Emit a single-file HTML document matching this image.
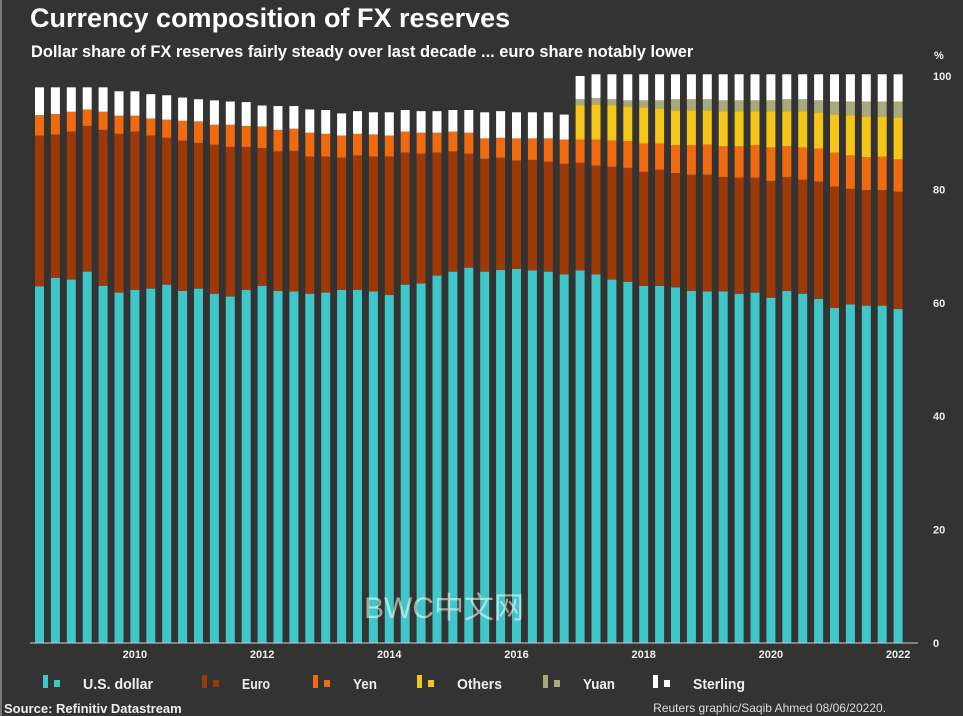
<!DOCTYPE html>
<html><head><meta charset="utf-8"><style>
html,body{margin:0;padding:0;background:#333333;}
body{width:963px;height:716px;overflow:hidden;position:relative;font-family:"Liberation Sans Narrow","Liberation Sans",sans-serif;color:#fff;}
#title{position:absolute;left:30px;top:3px;font:bold 27px "Liberation Sans",sans-serif;}
#sub{position:absolute;left:31px;top:43px;font:bold 16.4px "Liberation Sans",sans-serif;}
#lborder{position:absolute;left:0;top:0;width:2px;height:716px;background:#777;}
</style></head><body>
<div id="lborder"></div>
<div id="title">Currency composition of FX reserves</div>
<div id="sub">Dollar share of FX reserves fairly steady over last decade ... euro share notably lower</div>
<svg id="chart" width="963" height="716" style="position:absolute;left:0;top:0"></svg>
<script>
const usd=[62.9,64.4,64.1,65.5,63.0,61.8,62.3,62.5,63.2,62.1,62.5,61.6,61.1,62.3,63.0,62.1,62.0,61.6,61.8,62.3,62.3,62.0,61.4,63.2,63.4,64.8,65.5,66.2,65.5,65.8,66.0,65.7,65.5,65.0,65.7,65.0,64.1,63.7,63.0,63.0,62.7,62.1,62.0,62.0,61.6,61.8,60.9,62.1,61.6,60.7,59.1,59.7,59.5,59.5,58.9];
const eur=[26.6,25.3,26.1,25.7,27.5,28.0,27.9,27.0,25.9,26.5,25.7,26.3,26.4,25.2,24.3,24.6,24.8,24.2,24.0,23.3,23.7,23.8,24.4,23.3,22.9,21.7,21.2,20.1,19.9,19.8,19.1,19.5,19.4,19.5,19.0,19.2,19.9,20.1,20.1,20.5,20.2,20.5,20.6,20.2,20.5,20.3,20.6,20.1,20.1,20.7,21.4,20.4,20.4,20.4,20.7];
const jpy=[3.6,3.6,3.5,2.9,3.2,3.2,2.8,3.0,3.2,3.5,3.8,3.5,3.9,3.7,3.8,3.8,3.9,4.2,4.0,3.9,3.8,3.9,3.7,3.7,3.7,3.5,3.5,3.7,3.6,3.5,3.9,3.8,4.1,4.3,4.1,4.6,4.6,4.7,5.0,4.6,4.9,5.2,5.3,5.4,5.5,5.7,5.9,5.4,5.7,5.8,6.0,5.9,5.8,5.9,5.7];
const oth=[0,0,0,0,0,0,0,0,0,0,0,0,0,0,0,0,0,0,0,0,0,0,0,0,0,0,0,0,0,0,0,0,0,0,6.0,6.2,6.2,6.1,6.4,6.2,6.1,6.1,6.0,6.2,6.2,6.0,6.4,6.2,6.4,6.4,6.7,7.1,7.2,7.1,7.4];
const cny=[0,0,0,0,0,0,0,0,0,0,0,0,0,0,0,0,0,0,0,0,0,0,0,0,0,0,0,0,0,0,0,0,0,0,1.1,1.1,1.1,1.1,1.2,1.4,2.0,2.0,2.0,1.9,1.9,1.9,1.9,2.1,2.1,2.1,2.3,2.4,2.6,2.6,2.8];
const gbp=[4.9,4.7,4.3,3.9,4.3,4.3,4.3,4.3,4.3,4.1,3.9,4.3,4.1,4.2,3.7,4.2,4.0,4.1,4.2,3.9,4.0,3.9,4.1,3.8,3.8,3.8,3.8,4.0,4.6,4.7,4.6,4.6,4.6,4.4,4.1,4.2,4.4,4.6,4.6,4.6,4.4,4.4,4.4,4.6,4.6,4.6,4.6,4.4,4.4,4.6,4.8,4.8,4.8,4.8,4.8];
const yearLabels=["2010","2012","2014","2016","2018","2020","2022"];
const yearIdx=[6,14,22,30,38,46,54];
const yTicks=[0,20,40,60,80,100];
const NS="http://www.w3.org/2000/svg";
const svg=document.getElementById('chart');
const xc=i=>39.5+i*15.9;
const y=v=>643-v*5.67;
const series=[[usd,'#3ec6c8','us-dollar'],[eur,'#9c3906','euro'],[jpy,'#f06a10','yen'],[oth,'#f5c518','others'],[cny,'#a8aa7a','yuan'],[gbp,'#ffffff','sterling']];
function mk(tag,attrs){const e=document.createElementNS(NS,tag);for(const k in attrs)e.setAttribute(k,attrs[k]);svg.appendChild(e);return e;}
for(let i=0;i<usd.length;i++){
  let base=0;
  for(const [arr,col,nm] of series){
    const v=arr[i]; if(v<=0) continue;
    const r=mk('rect',{x:xc(i)-4.5,y:y(base+v),width:9,height:y(base)-y(base+v),fill:col});
    
    
    base+=v;
  }
}
const ax=mk('line',{x1:30,x2:918,y1:643,y2:643,stroke:'#ccc','stroke-width':1});


yTicks.forEach(t=>{
  const tx=mk('text',{x:933,y:y(t)+4,fill:'#eee','font-size':11,'font-weight':'bold'});
  tx.textContent=t;
  
  
});
const pct=mk('text',{x:934,y:59,fill:'#eee','font-size':11,'font-weight':'bold'});
pct.textContent='%';


yearLabels.forEach((l,k)=>{
  const tx=mk('text',{x:xc(yearIdx[k]),y:658,fill:'#eee','font-size':11,'font-weight':'bold','text-anchor':'middle'});
  tx.textContent=l;
  
  
});
const legend=[['U.S. dollar','#3ec6c8',43,70],['Euro','#9c3906',202,28],['Yen','#f06a10',313,24],['Others','#f5c518',417,45],['Yuan','#a8aa7a',543,32],['Sterling','#ffffff',653,52]];
legend.forEach(([l,c,x0,w])=>{
  const g=document.createElementNS(NS,'g');svg.appendChild(g);
  
  
  const a=document.createElementNS(NS,'rect');a.setAttribute('x',x0);a.setAttribute('y',675);a.setAttribute('width',5);a.setAttribute('height',13);a.setAttribute('fill',c);g.appendChild(a);
  const b=document.createElementNS(NS,'rect');b.setAttribute('x',x0+11);b.setAttribute('y',680);b.setAttribute('width',6);b.setAttribute('height',7);b.setAttribute('fill',c);g.appendChild(b);
  const t=document.createElementNS(NS,'text');t.setAttribute('x',x0+40);t.setAttribute('y',689);t.setAttribute('fill','#eee');t.setAttribute('font-size',15);t.setAttribute('font-weight','bold');t.setAttribute('textLength',w);t.setAttribute('lengthAdjust','spacingAndGlyphs');t.textContent=l;g.appendChild(t);
});
const src=mk('text',{x:4,y:713,fill:'#eee','font-size':13,'font-weight':'bold'});
src.textContent='Source: Refinitiv Datastream';


const cr=mk('text',{x:886,y:712,fill:'#ddd','font-size':12,'text-anchor':'end'});
cr.textContent='Reuters graphic/Saqib Ahmed 08/06/20220.';


const wm=mk('text',{x:364,y:618,fill:'rgba(255,255,255,0.55)','font-size':30,'font-family':'Liberation Sans, Noto Sans CJK SC, sans-serif'});
wm.textContent='BWC中文网';


</script>
</body></html>
